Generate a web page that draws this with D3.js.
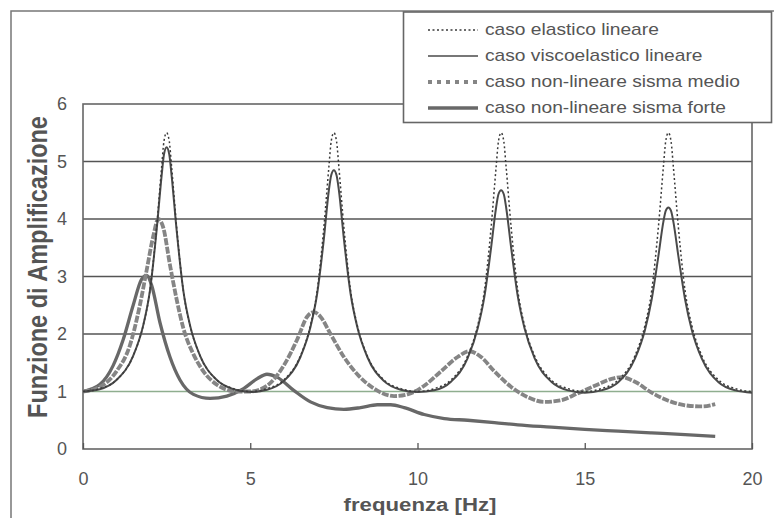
<!DOCTYPE html>
<html>
<head>
<meta charset="utf-8">
<script src="https://cdn.jsdelivr.net/npm/d3@7"></script>
<style>
  body { margin: 0; background: #fff; }
  svg { display: block; }
  text { font-family: "Liberation Sans", Arial, sans-serif; fill: #555; }
</style>
</head>
<body>
<svg id="chart"></svg>
<script>
// Dimensions de la figure
const width = 774,
  height = 518;

// Valeurs : [frequenza Hz, amplificazione]
const elastico = [
  [0, 1.0], [0.5, 1.05], [1, 1.2], [1.5, 1.62], [1.8, 2.15], [2, 2.75], [2.2, 3.85], [2.35, 4.9], [2.42, 5.35], [2.5, 5.5],
  [2.58, 5.35], [2.65, 4.9], [2.8, 3.85], [3, 2.75], [3.2, 2.15], [3.5, 1.62], [4, 1.2], [4.5, 1.05], [5, 1.0],
  [5.5, 1.05], [6, 1.2], [6.5, 1.62], [6.8, 2.15], [7, 2.75], [7.2, 3.85], [7.35, 4.9], [7.42, 5.35], [7.5, 5.5],
  [7.58, 5.35], [7.65, 4.9], [7.8, 3.85], [8, 2.75], [8.2, 2.15], [8.5, 1.62], [9, 1.2], [9.5, 1.05], [10, 1.0],
  [10.5, 1.05], [11, 1.2], [11.5, 1.62], [11.8, 2.15], [12, 2.75], [12.2, 3.85], [12.35, 4.9], [12.42, 5.35], [12.5, 5.5],
  [12.58, 5.35], [12.65, 4.9], [12.8, 3.85], [13, 2.75], [13.2, 2.15], [13.5, 1.62], [14, 1.2], [14.5, 1.05], [15, 1.0],
  [15.5, 1.05], [16, 1.2], [16.5, 1.62], [16.8, 2.15], [17, 2.75], [17.2, 3.85], [17.35, 4.9], [17.42, 5.35], [17.5, 5.5],
  [17.58, 5.35], [17.65, 4.9], [17.8, 3.85], [18, 2.75], [18.2, 2.15], [18.5, 1.62], [19, 1.2], [19.5, 1.05], [20, 1.0]
];

const viscoelastico = [
  [0, 1.0], [0.5, 1.04], [1, 1.2], [1.5, 1.62], [1.8, 2.15], [2, 2.75], [2.2, 3.8], [2.35, 4.75], [2.42, 5.12], [2.5, 5.25],
  [2.58, 5.12], [2.65, 4.75], [2.8, 3.8], [3, 2.75], [3.2, 2.15], [3.5, 1.62], [4, 1.2], [4.5, 1.04], [5, 0.99],
  [5.5, 1.03], [6, 1.18], [6.5, 1.6], [6.8, 2.12], [7, 2.7], [7.2, 3.65], [7.35, 4.5], [7.42, 4.76], [7.5, 4.85],
  [7.58, 4.76], [7.65, 4.5], [7.8, 3.65], [8, 2.7], [8.2, 2.12], [8.5, 1.6], [9, 1.18], [9.5, 1.03], [10, 0.99],
  [10.5, 1.02], [11, 1.17], [11.5, 1.58], [11.8, 2.1], [12, 2.65], [12.2, 3.5], [12.35, 4.2], [12.42, 4.43], [12.5, 4.5],
  [12.58, 4.43], [12.65, 4.2], [12.8, 3.5], [13, 2.65], [13.2, 2.1], [13.5, 1.58], [14, 1.17], [14.5, 1.02], [15, 0.98],
  [15.5, 1.02], [16, 1.16], [16.5, 1.57], [16.8, 2.07], [17, 2.6], [17.2, 3.35], [17.35, 3.95], [17.42, 4.14], [17.5, 4.2],
  [17.58, 4.14], [17.65, 3.95], [17.8, 3.35], [18, 2.6], [18.2, 2.07], [18.5, 1.57], [19, 1.16], [19.5, 1.02], [20, 0.98]
];

const sismaMedio = [
  [0, 1.0], [0.5, 1.08], [1, 1.35], [1.4, 1.8], [1.7, 2.5], [1.9, 3.1], [2.1, 3.7], [2.25, 4.0], [2.4, 3.85],
  [2.6, 3.2], [2.8, 2.6], [3, 2.1], [3.3, 1.65], [3.6, 1.35], [4, 1.12], [4.6, 1.0], [5, 1.0], [5.5, 1.1],
  [6, 1.45], [6.4, 1.9], [6.7, 2.3], [6.9, 2.38], [7.1, 2.3], [7.4, 2.0], [7.8, 1.6], [8.2, 1.3], [8.7, 1.05],
  [9.3, 0.92], [9.7, 0.95], [10.2, 1.1], [10.7, 1.35], [11.2, 1.6], [11.55, 1.7], [11.9, 1.6], [12.3, 1.35],
  [12.8, 1.08], [13.3, 0.9], [13.8, 0.82], [14.3, 0.85], [14.8, 0.97], [15.3, 1.1], [15.8, 1.22], [16.1, 1.25],
  [16.5, 1.17], [17, 0.98], [17.5, 0.84], [18, 0.76], [18.5, 0.74], [18.9, 0.78]
];

const sismaForte = [
  [0, 1.0], [0.5, 1.12], [0.9, 1.45], [1.2, 1.9], [1.5, 2.5], [1.75, 2.95], [1.9, 3.02], [2.05, 2.85], [2.3, 2.2],
  [2.6, 1.6], [2.9, 1.2], [3.3, 0.95], [3.8, 0.88], [4.3, 0.92], [4.8, 1.05], [5.2, 1.22], [5.5, 1.3], [5.8, 1.25],
  [6.3, 1.02], [6.8, 0.82], [7.3, 0.72], [7.8, 0.69], [8.3, 0.72], [8.8, 0.77], [9.2, 0.77], [9.6, 0.72],
  [10.2, 0.6], [10.8, 0.53], [11.5, 0.5], [12.3, 0.46], [13, 0.42], [14, 0.38], [15, 0.34], [16, 0.31],
  [17, 0.28], [18, 0.25], [18.9, 0.22]
];

const xTicks = [0, 5, 10, 15, 20];
const yTicks = [0, 1, 2, 3, 4, 5, 6];
const legendLabels = [
  "caso elastico lineare",
  "caso viscoelastico lineare",
  "caso non-lineare sisma medio",
  "caso non-lineare sisma forte"
];

const svg = d3.select("#chart").attr("width", width).attr("height", height);

// Zone du graphique
const x = d3.scaleLinear().domain([0, 20]).range([83, 752]);
const y = d3.scaleLinear().domain([0, 6]).range([449, 104]);

// Cadre extérieur (haut et gauche visibles)
svg.append("path")
  .attr("d", "M11,518 V11 H774")
  .attr("fill", "none")
  .attr("stroke", "#777")
  .attr("stroke-width", 1.5);

// Lignes horizontales de la grille
svg.append("g")
  .selectAll("line")
  .data([1, 2, 3, 4, 5])
  .join("line")
  .attr("x1", x(0))
  .attr("x2", x(20))
  .attr("y1", d => y(d))
  .attr("y2", d => y(d))
  .attr("stroke", d => (d === 1 ? "#8fae8f" : "#555"))
  .attr("stroke-width", d => (d === 1 ? 1.3 : 1.6));

// Cadre du graphique
svg.append("rect")
  .attr("x", x(0))
  .attr("y", y(6))
  .attr("width", x(20) - x(0))
  .attr("height", y(0) - y(6))
  .attr("fill", "none")
  .attr("stroke", "#666")
  .attr("stroke-width", 1.6);

// Axe X (graduations vers l'intérieur)
const xAxis = svg.append("g")
  .attr("transform", `translate(0,${y(0)})`)
  .call(d3.axisBottom(x).tickValues(xTicks).tickSize(-6).tickPadding(23));
xAxis.select(".domain").remove();
xAxis.selectAll("line").attr("stroke", "#555").attr("stroke-width", 1.3);
xAxis.selectAll("text")
  .attr("font-size", "18px")
  .style("font-family", "'Liberation Sans', Arial, sans-serif")
  .attr("fill", "#555");

// Axe Y
const yAxis = svg.append("g")
  .attr("transform", `translate(${x(0)},0)`)
  .call(d3.axisLeft(y).tickValues(yTicks).tickFormat(d3.format("d")).tickSize(0).tickPadding(16));
yAxis.select(".domain").remove();
yAxis.selectAll("text")
  .attr("font-size", "18px")
  .style("font-family", "'Liberation Sans', Arial, sans-serif")
  .attr("fill", "#555");

// Titres des axes
svg.append("text")
  .attr("transform", "translate(420,511) scale(1.2,1)")
  .attr("text-anchor", "middle")
  .attr("font-size", "18.5px")
  .attr("font-weight", "bold")
  .text("frequenza [Hz]");

svg.append("text")
  .attr("transform", "translate(47,267) scale(1.2,1) rotate(-90)")
  .attr("text-anchor", "middle")
  .attr("font-size", "23.5px")
  .attr("font-weight", "bold")
  .text("Funzione di Amplificazione");

// Styles des courbes (tracé et légende)
const styles = [
  { stroke: "#3a3a3a", width: 1.5, dash: "2,2.5", legendDash: "2,2.5" },
  { stroke: "#4a4a4a", width: 2, dash: null, legendDash: null },
  { stroke: "#858585", width: 3.8, dash: "7,1.5", legendDash: "4,5" },
  { stroke: "#686868", width: 3.3, dash: null, legendDash: null }
];
const series = [elastico, viscoelastico, sismaMedio, sismaForte];

const line = d3.line()
  .x(d => x(d[0]))
  .y(d => y(d[1]))
  .curve(d3.curveMonotoneX);

// Dessiner les courbes (les plus épaisses d'abord)
[3, 2, 1, 0].forEach(i => {
  svg.append("path")
    .datum(series[i])
    .attr("d", line)
    .attr("fill", "none")
    .attr("stroke", styles[i].stroke)
    .attr("stroke-width", styles[i].width)
    .attr("stroke-dasharray", styles[i].dash)
    .attr("stroke-linejoin", "round");
});

// Légende
const legend = svg.append("g");
legend.append("rect")
  .attr("x", 403.5)
  .attr("y", 12)
  .attr("width", 368)
  .attr("height", 110.5)
  .attr("fill", "#fff")
  .attr("stroke", "#666")
  .attr("stroke-width", 1.6);

legendLabels.forEach((label, i) => {
  const base = 35 + i * 26;
  legend.append("line")
    .attr("x1", 428)
    .attr("x2", 478)
    .attr("y1", base - 5)
    .attr("y2", base - 5)
    .attr("stroke", styles[i].stroke)
    .attr("stroke-width", i === 1 ? 1.5 : styles[i].width)
    .attr("stroke-dasharray", styles[i].legendDash);
  legend.append("text")
    .attr("transform", `translate(485,${base}) scale(1.2,1)`)
    .attr("font-size", "16px")
    .text(label);
});
</script>
</body>
</html>
